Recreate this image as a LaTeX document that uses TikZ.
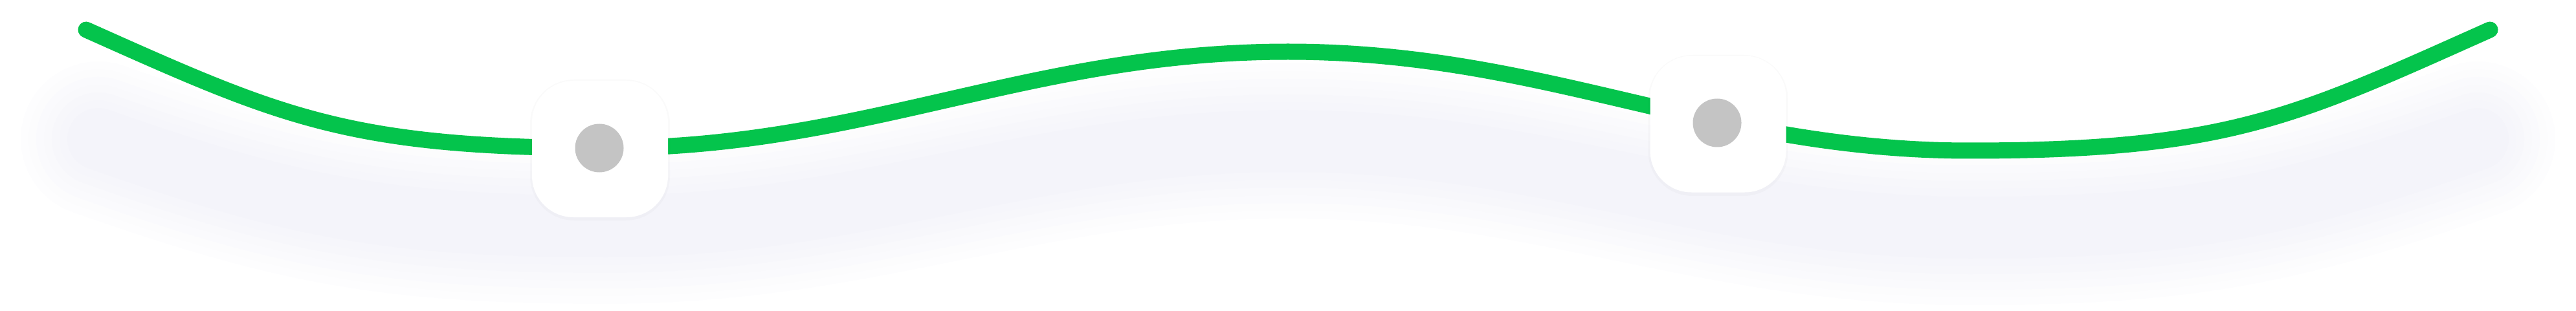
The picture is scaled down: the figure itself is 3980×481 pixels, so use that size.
\documentclass[tikz,border=0pt]{standalone}
\definecolor{wavegreen}{RGB}{4,196,76}
\definecolor{shadowc}{RGB}{200,200,230}
\definecolor{dotgray}{RGB}{196,196,196}
\begin{document}
\begin{tikzpicture}[x=0.25pt,y=-0.25pt,
  knob/.style={rectangle, rounded corners=16pt, fill=white, minimum width=52.5pt, minimum height=52.75pt, inner sep=0pt},
  knobshadow/.style={rectangle, rounded corners=17pt, fill=black, fill opacity=0.018, minimum width=54pt, minimum height=54.5pt, inner sep=0pt},
  dot/.style={circle, fill=dotgray, minimum size=18.75pt, inner sep=0pt},
  wave/.style={draw=wavegreen, line width=6.25pt, line cap=round},
  glow/.style={draw=shadowc, opacity=0.032, line cap=round, line join=round}]
\useasboundingbox (0,0) rectangle (3980,481);
\coordinate (s) at (133,46);
\coordinate (t1) at (937,229);
\coordinate (p) at (1990,80);
\coordinate (t2) at (3043,233);
\coordinate (e) at (3847,46);
\coordinate (gs) at (152,215);
\coordinate (gt1) at (937,350);
\coordinate (gp) at (1990,218);
\coordinate (gt2) at (3043,352);
\coordinate (ge) at (3828,215);
% soft shadow beneath the wave
\foreach \w in {60,54,48,42,36,30,24} {
  \draw[glow, line width=\w pt] (gs) .. controls (450,320) and (600,350) .. (gt1)
    .. controls (1337,350) and (1590,218) .. (gp)
    .. controls (2390,218) and (2643,352) .. (gt2)
    .. controls (3380,352) and (3530,320) .. (ge);
}
% wave
\draw[wave] (s) .. controls (433,180) and (537,229) .. (t1)
    .. controls (1337,229) and (1590,80) .. (p)
    .. controls (2390,80) and (2643,233) .. (t2)
    .. controls (3443,233) and (3547,180) .. (e);
% knobs
\node[knobshadow] (s1) at (927,232) {};
\node[knob] (k1) at (927,230.5) {};
\node[dot] (d1) at (926,229) {};
\node[knobshadow] (s2) at (2654.5,194) {};
\node[knob] (k2) at (2654.5,192) {};
\node[dot] (d2) at (2653,190) {};
\end{tikzpicture}
\end{document}
